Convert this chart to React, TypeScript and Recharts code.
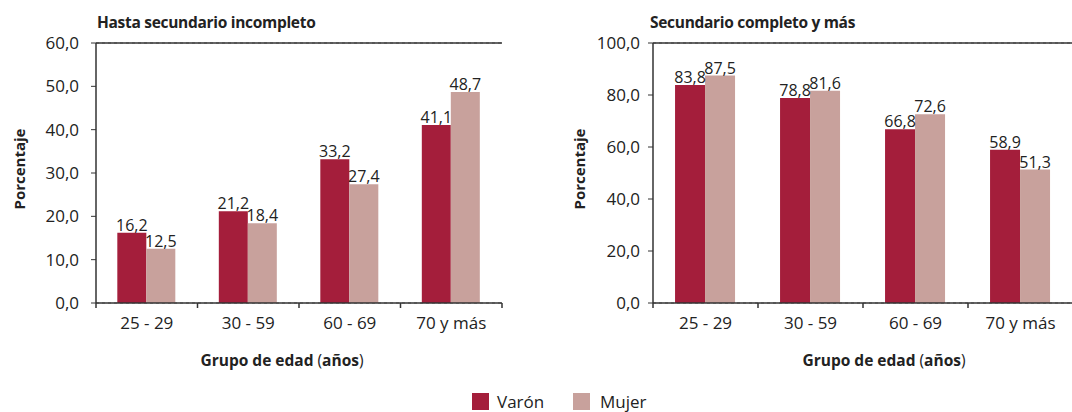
import React from "react";
import {
  BarChart,
  Bar,
  XAxis,
  YAxis,
  CartesianGrid,
  LabelList,
  ReferenceLine,
} from "recharts";

// Datos
const ageGroups = ["25 - 29", "30 - 59", "60 - 69", "70 y más"];

const lowMale = [16.2, 21.2, 33.2, 41.1];
const lowFemale = [12.5, 18.4, 27.4, 48.7];

const highMale = [83.8, 78.8, 66.8, 58.9];
const highFemale = [87.5, 81.6, 72.6, 51.3];

const lowTicks = [0, 10, 20, 30, 40, 50, 60];
const highTicks = [0, 20, 40, 60, 80, 100];

const MALE = "#a41e3b";
const FEMALE = "#c8a19c";
const AXIS = "#333333";
const FONT = "'Open Sans', sans-serif";

const fmt = (v: any) => Number(v).toFixed(1).replace(".", ",");

const buildRows = (male: number[], female: number[]) =>
  ageGroups.map((g, i) => ({ group: g, varon: male[i], mujer: female[i] }));

const lowData = buildRows(lowMale, lowFemale);
const highData = buildRows(highMale, highFemale);

// tick con la marca en el borde de cada categoría, como en el original
const CategoryTick = (props: any) => {
  const { x, y, payload, index, visibleTicksCount } = props;
  const half = payload?.offset ?? 50;
  const last = index === (visibleTicksCount ?? 4) - 1;
  return (
    <g>
      <line x1={x - half} x2={x - half} y1={y} y2={y + 5} stroke={AXIS} strokeWidth={1.5} />
      {last && (
        <line x1={x + half} x2={x + half} y1={y} y2={y + 5} stroke={AXIS} strokeWidth={1.5} />
      )}
      <text x={x} y={y + 26} textAnchor="middle" fontSize={17} fill="#222" fontFamily={FONT}>
        {payload.value}
      </text>
    </g>
  );
};

type PanelProps = {
  data: any[];
  ticks: number[];
  yWidth: number;
  tickMargin: number;
  width: number;
  rightMargin: number;
  rightBorder: boolean;
  labelOffset: number;
};

const Panel = ({ data, ticks, yWidth, tickMargin, width, rightMargin, rightBorder, labelOffset }: PanelProps) => {
  const max = ticks[ticks.length - 1];
  return (
    <BarChart
      width={width}
      height={412}
      data={data}
      margin={{ top: 43, right: rightMargin, bottom: 79, left: 0 }}
      barCategoryGap="21%"
      barGap={0}
    >
      <CartesianGrid vertical={false} stroke="#777" strokeDasharray="3 3" />
      <XAxis
        dataKey="group"
        tick={<CategoryTick />}
        tickLine={false}
        tickSize={0}
        tickMargin={0}
        axisLine={{ stroke: AXIS, strokeWidth: 1.5 }}
        height={30}
        interval={0}
      />
      <YAxis
        yAxisId="l"
        domain={[0, max]}
        ticks={ticks}
        width={yWidth}
        tickFormatter={fmt}
        tickSize={5}
        tickMargin={tickMargin}
        tickLine={{ stroke: AXIS }}
        axisLine={{ stroke: AXIS, strokeWidth: 1.5 }}
        tick={{ fontSize: 17, fill: "#222", fontFamily: FONT }}
        label={{
          value: "Porcentaje",
          angle: -90,
          position: "insideLeft",
          offset: labelOffset,
          dy: -4,
          style: { textAnchor: "middle", fontSize: 15, fontWeight: 700, fill: "#222", fontFamily: FONT },
        }}
      />
      {rightBorder && (
        <YAxis
          yAxisId="r"
          orientation="right"
          domain={[0, max]}
          width={0}
          tick={false}
          tickLine={false}
          axisLine={{ stroke: AXIS, strokeWidth: 1.5 }}
        />
      )}
      <ReferenceLine yAxisId="l" y={max} stroke={AXIS} strokeWidth={1.5} />
      <Bar yAxisId="l" dataKey="varon" fill={MALE} isAnimationActive={false}>
        <LabelList dataKey="varon" position="top" offset={2} formatter={fmt} fontSize={16} fill="#222" fontFamily={FONT} />
      </Bar>
      <Bar yAxisId="l" dataKey="mujer" fill={FEMALE} isAnimationActive={false}>
        <LabelList dataKey="mujer" position="top" offset={2} formatter={fmt} fontSize={16} fill="#222" fontFamily={FONT} />
      </Bar>
    </BarChart>
  );
};

const title: React.CSSProperties = {
  position: "absolute",
  top: 11,
  fontSize: 15.5,
  fontWeight: 700,
  color: "#222",
  fontFamily: FONT,
  letterSpacing: -0.3,
  whiteSpace: "nowrap",
};

const axisTitle: React.CSSProperties = {
  position: "absolute",
  top: 349,
  fontSize: 15.5,
  color: "#222",
  fontFamily: FONT,
  whiteSpace: "nowrap",
  transform: "translateX(-50%)",
};

const legendText: React.CSSProperties = {
  position: "absolute",
  top: 390,
  fontSize: 17,
  color: "#222",
  fontFamily: FONT,
};

export default function App() {
  return (
    <div
      style={{
        position: "absolute",
        left: 0,
        top: 0,
        width: 1072,
        height: 412,
        overflow: "hidden",
        background: "#fff",
      }}
    >
      <div style={{ position: "absolute", left: 0, top: 0 }}>
        <Panel
          data={lowData}
          ticks={lowTicks}
          yWidth={96}
          tickMargin={12}
          width={520}
          rightMargin={18}
          rightBorder={true}
          labelOffset={20}
        />
      </div>
      <div style={{ position: "absolute", left: 540, top: 0 }}>
        <Panel
          data={highData}
          ticks={highTicks}
          yWidth={113}
          tickMargin={8}
          width={540}
          rightMargin={7}
          rightBorder={false}
          labelOffset={40}
        />
      </div>

      <div style={{ ...title, left: 97 }}>Hasta secundario incompleto</div>
      <div style={{ ...title, left: 650 }}>Secundario completo y más</div>

      <div style={{ ...axisTitle, left: 282 }}>
        <b>Grupo de edad</b> (<b>años</b>)
      </div>
      <div style={{ ...axisTitle, left: 884 }}>
        <b>Grupo de edad</b> (<b>años</b>)
      </div>

      <div style={{ position: "absolute", left: 472, top: 393, width: 17, height: 17, background: MALE }} />
      <div style={{ ...legendText, left: 497 }}>Varón</div>
      <div style={{ position: "absolute", left: 573, top: 393, width: 17, height: 17, background: FEMALE }} />
      <div style={{ ...legendText, left: 600 }}>Mujer</div>
    </div>
  );
}
